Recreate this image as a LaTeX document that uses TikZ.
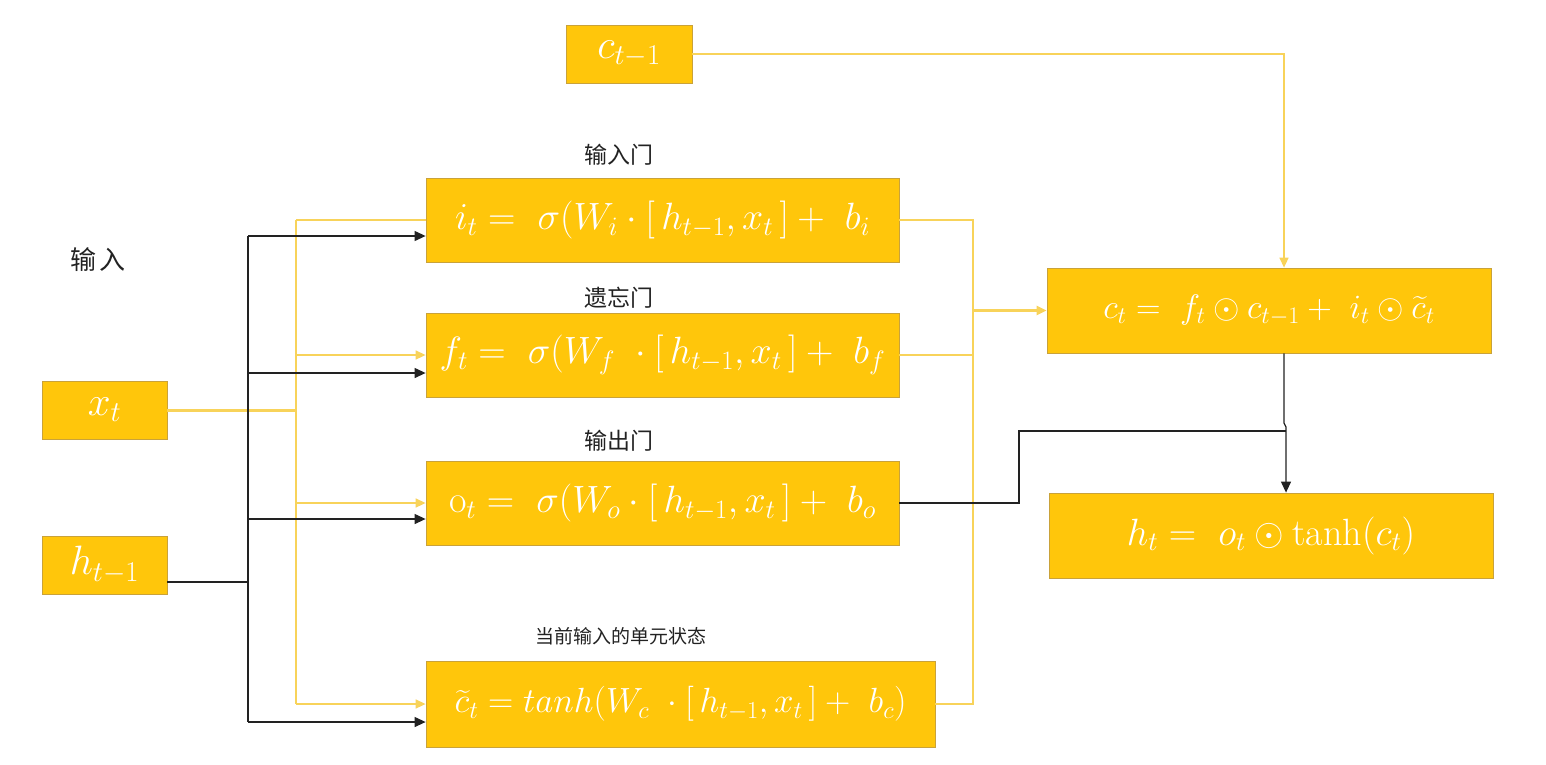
\RequirePackage{fix-cm}
\documentclass[tikz,border=0pt]{standalone}
\usepackage{fontspec}
\usepackage{amsmath}
\newfontfamily\cjk{Noto Sans CJK SC}
\usetikzlibrary{arrows.meta}
\definecolor{boxfill}{HTML}{FFC60B}
\definecolor{boxline}{HTML}{C9A23A}
\definecolor{ylw}{HTML}{F8D35A}
\definecolor{blk}{HTML}{222222}
\definecolor{labc}{HTML}{222222}
\begin{document}
\begin{tikzpicture}[x=1pt,y=-1pt,
  box/.style={draw=boxline, fill=boxfill, line width=0.8pt, inner sep=0pt, text=white, font=\fontsize{38}{42}\selectfont},
  sbox/.style={box, font=\fontsize{41}{46}\selectfont},
  yl/.style={draw=ylw, line width=1.5pt},
  bl/.style={draw=blk, line width=1.2pt},
  ya/.style={yl, -{Triangle[length=10pt,width=9pt]}},
  ba/.style={bl, -{Triangle[length=11pt,width=10pt]}},
  lab/.style={font=\cjk\fontsize{23}{26}\selectfont, text=labc, inner sep=0pt}]
\useasboundingbox (0,0) rectangle (1546,764);
% boxes
\node[sbox, minimum width=126pt, minimum height=58pt] (ct1) at (629,54) {$c_{t-1}$};
\node[sbox, minimum width=125pt, minimum height=58pt] (xt) at (104.5,410) {$x_t$};
\node[sbox, minimum width=125pt, minimum height=58pt] (ht1) at (104.5,565) {$h_{t-1}$};
\node[box, minimum width=473pt, minimum height=84pt] (ib) at (662.5,220) {$i_t =\ \sigma(W_i \cdot [\,h_{t-1},x_t\,]+\ b_i$};
\node[box, minimum width=473pt, minimum height=84pt] (fb) at (662.5,355) {$f_t =\ \sigma(W_f\ \cdot [\,h_{t-1},x_t\,]+\ b_f$};
\node[box, minimum width=473pt, minimum height=84pt] (ob) at (662.5,503) {$\mathrm{o}_t =\ \sigma(W_o \cdot [\,h_{t-1},x_t\,]+\ b_o$};
\node[box, minimum width=509pt, minimum height=86pt, font=\fontsize{35}{40}\selectfont] (cb) at (680.5,704) {$\widetilde{c}_t = tanh(W_c\ \cdot [\,h_{t-1},x_t\,]+\ b_c)$};
\node[box, minimum width=444pt, minimum height=85pt, font=\fontsize{34}{40}\selectfont] (ctb) at (1269,310.5) {$c_t =\ f_t \odot c_{t-1} +\ i_t \odot \widetilde{c}_t$};
\node[box, minimum width=444pt, minimum height=85pt] (htb) at (1271,535.5) {$h_t =\ o_t \odot \tanh(c_t)$};
% labels
\node[lab] (l1) at (619,155) {输入门};
\node[lab] (l2) at (619,298) {遗忘门};
\node[lab] (l3) at (619,441) {输出门};
\node[lab, font=\cjk\fontsize{19}{22}\selectfont] (l4) at (621,636) {当前输入的单元状态};
\node[lab, font=\cjk\fontsize{26}{30}\selectfont] (l5) at (98,260) {输\hspace{3pt}入};
% junction coordinates
\coordinate (ya1) at (296,220);
\coordinate (ya2) at (296,704);
\coordinate (ba1) at (248,236);
\coordinate (bf) at (248,373);
\coordinate (bo) at (248,519);
\coordinate (ba2) at (248,722);
\coordinate (hj) at (248,582);
\coordinate (ry) at (973,220);
\coordinate (cj) at (1284,54);
\coordinate (k1) at (1284,423);
\coordinate (k2) at (1286,427);
\coordinate (m) at (1019,431);
% yellow input lines
\draw[yl, line width=3pt] (xt.east) -- (xt.east -| ya1);
\draw[yl] (ya1) -- (ya2);
\draw[yl] (ya1) -- (ib.west);
\draw[ya] (ya1 |- fb.west) -- (fb.west);
\draw[ya] (ya1 |- ob.west) -- (ob.west);
\draw[ya] (ya2) -- (cb.west);
% black input lines
\draw[bl, line width=2.4pt] (ht1.east |- hj) -- (hj) -- (bo);
\draw[bl] (ba1) -- (ba2);
\draw[ba] (ba1) -- (ba1 -| ib.west);
\draw[ba] (bf) -- (bf -| fb.west);
\draw[ba] (bo) -- (bo -| ob.west);
\draw[ba] (ba2) -- (ba2 -| cb.west);
% right yellow lines
\draw[yl] (ib.east) -- (ry) -- (ry |- cb.east) -- (cb.east);
\draw[yl] (fb.east) -- (fb.east -| ry);
\draw[ya, line width=2.5pt] (ry |- ctb.west) -- (ctb.west);
\draw[ya] (ct1.east) -- (cj) -- (cj |- ctb.north);
% right black lines
\draw[ba] (k1 |- ctb.south) -- (k1) -- (k2) -- (k2 |- htb.north);
\draw[bl] (ob.east) -- (ob.east -| m) -- (m) -- (m -| k2);
\end{tikzpicture}
\end{document}
